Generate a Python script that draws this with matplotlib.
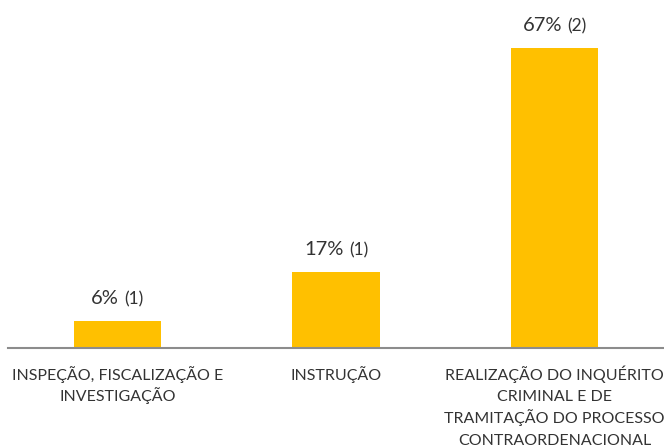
import matplotlib.pyplot as plt
from matplotlib.offsetbox import TextArea, HPacker, AnnotationBbox

categories = ["INSPEÇÃO, FISCALIZAÇÃO E\nINVESTIGAÇÃO",
              "INSTRUÇÃO",
              "REALIZAÇÃO DO INQUÉRITO\nCRIMINAL E DE\nTRAMITAÇÃO DO PROCESSO\nCONTRAORDENACIONAL"]
percent = [6, 17, 67]
counts = [1, 1, 2]

plt.rcParams['font.family'] = ['Lato', 'DejaVu Sans']
txt = '#333333'

fig = plt.figure(figsize=(6.64, 4.48), dpi=100)
ax = fig.add_axes([8 / 664, 100 / 448, 656 / 664, 348 / 448])
x = range(len(categories))
ax.bar(x, percent, width=0.4, color='#FFC000')

for xi, p, c in zip(x, percent, counts):
    box = HPacker(children=[
        TextArea(f"{p}%", textprops=dict(fontsize=14.5, color=txt)),
        TextArea(f"({c})", textprops=dict(fontsize=12.5, color=txt))],
        align='baseline', pad=0, sep=4)
    ab = AnnotationBbox(box, (xi, p), xybox=(0, 10), xycoords='data',
                        boxcoords='offset points', box_alignment=(0.5, 0),
                        frameon=False)
    ax.add_artist(ab)

# category labels, one line at a time so the line spacing stays even
for xi, cat in zip(x, categories):
    for i, line in enumerate(cat.split("\n")):
        ax.annotate(line, (xi, 0), xycoords=('data', 'axes fraction'),
                    xytext=(0, -23 - 15.5 * i), textcoords='offset points',
                    ha='center', va='baseline', fontsize=11.5, color=txt,
                    annotation_clip=False)

ax.set_xlim(-0.5, 2.5)
ax.set_ylim(0, 77.7)
ax.set_xticks([])
ax.set_yticks([])
for s in ['top', 'right', 'left']:
    ax.spines[s].set_visible(False)
ax.spines['bottom'].set_color('#8C8C8C')
ax.spines['bottom'].set_linewidth(1.5)

fig.savefig('out.png', dpi=100)
